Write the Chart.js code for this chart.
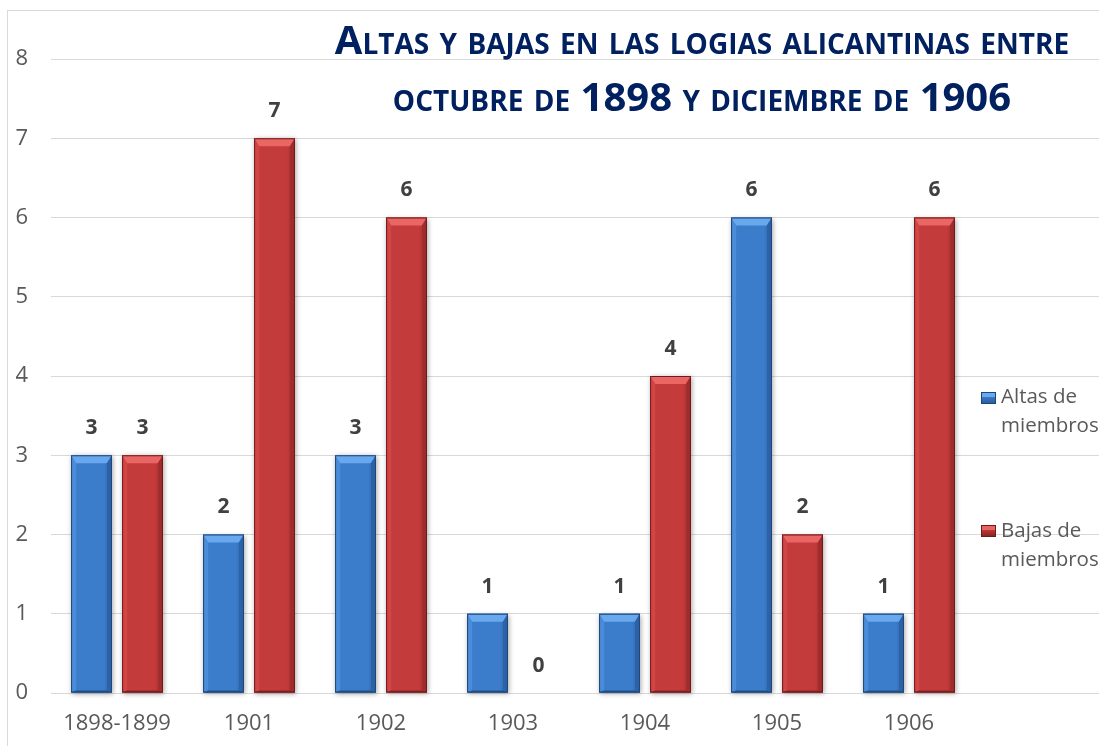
<!DOCTYPE html>
<html>
<head>
<meta charset="utf-8">
<script src="https://cdn.jsdelivr.net/npm/chart.js@4.4.1/dist/chart.umd.min.js"></script>
<style>
  html, body { margin: 0; padding: 0; background: #fff; overflow: hidden; }
  #wrap { position: relative; width: 1099px; height: 746px; overflow: hidden; }
  #frame { position: absolute; left: 7px; top: 10px; width: 1200px; height: 800px; border: 1px solid #d9d9d9; box-sizing: border-box; }
  #box { position: absolute; left: 0; top: 0; width: 1107px; height: 746px; }
  .tline { position: absolute; left: 302px; width: 800px; text-align: center; color: #002060;
           font-family: 'Open Sans', sans-serif; font-weight: bold; font-variant: small-caps; white-space: nowrap;
           font-size: 40px; line-height: 40px; }
  #t1 { top: 19px; }
  #t2 { top: 76px; }
  .leg { position: absolute; left: 1001px; font-family: 'Open Sans', sans-serif; font-size: 20.5px; line-height: 29px; color: #595959; white-space: nowrap; }
  .mark { position: absolute; left: 981px; width: 15px; height: 12px; box-sizing: border-box; }
</style>
</head>
<body>
<div id="wrap">
  <div id="frame"></div>
  <div id="box"><canvas id="chart"></canvas></div>
  <div id="t1" class="tline">Altas y bajas en las logias alicantinas entre</div>
  <div id="t2" class="tline">octubre de 1898 y diciembre de 1906</div>
  <div class="mark" style="top:392px;background:linear-gradient(180deg,#6aa9ee 0,#6aa9ee 35%,#3b7bc8 36%,#2a5f9f 100%);border:1px solid #1d4677;"></div>
  <div class="leg" style="top:381px;">Altas de<br>miembros</div>
  <div class="mark" style="top:525px;background:linear-gradient(180deg,#e86562 0,#e86562 35%,#c23a3a 36%,#8a2424 100%);border:1px solid #6e1b1b;"></div>
  <div class="leg" style="top:515px;">Bajas de<br>miembros</div>
</div>
<script>
// datos
const years = ['1898-1899', '1901', '1902', '1903', '1904', '1905', '1906', ''];
const altas = [3, 2, 3, 1, 1, 6, 1, null];
const bajas = [3, 7, 6, 0, 4, 2, 6, null];
const yTicks = [0, 1, 2, 3, 4, 5, 6, 7, 8];

const palettes = [
  { mid: '#3c7dcb', light: '#4b8cda', top: '#68a8ee', dark: '#2c62a6', bottom: '#24528a', line: '#1d4677' },
  { mid: '#c43b3b', light: '#d24545', top: '#ea6664', dark: '#a02c2c', bottom: '#8a2424', line: '#6e1b1b' }
];

// sombra suave detrás de las barras
const shadowPlugin = {
  id: 'shadowPlugin',
  beforeDatasetsDraw(chart) {
    const ctx = chart.ctx;
    ctx.save();
    ctx.shadowColor = 'rgba(0,0,0,0.35)';
    ctx.shadowBlur = 5;
    ctx.shadowOffsetX = 1;
    ctx.shadowOffsetY = 1;
    ctx.fillStyle = '#888';
    chart.data.datasets.forEach((ds, i) => {
      chart.getDatasetMeta(i).data.forEach((bar, j) => {
        if (ds.data[j] == null || ds.data[j] === 0) return;
        const p = bar.getProps(['x', 'y', 'base', 'width'], true);
        ctx.fillRect(p.x - p.width / 2, p.y, p.width, p.base - p.y);
      });
    });
    ctx.restore();
  }
};

// biselado tipo Excel + etiquetas
const bevelPlugin = {
  id: 'bevelPlugin',
  afterDatasetsDraw(chart) {
    const ctx = chart.ctx;
    chart.data.datasets.forEach((ds, i) => {
      const pal = palettes[i];
      chart.getDatasetMeta(i).data.forEach((bar, j) => {
        const v = ds.data[j];
        if (v == null) return;
        const p = bar.getProps(['x', 'y', 'base', 'width'], true);
        const l = p.x - p.width / 2, r = p.x + p.width / 2, t = p.y, b = p.base;
        if (b - t > 1) {
          ctx.save();
          const g = ctx.createLinearGradient(l, 0, r, 0);
          g.addColorStop(0, pal.light);
          g.addColorStop(0.15, pal.mid);
          g.addColorStop(0.8, pal.mid);
          g.addColorStop(1, pal.dark);
          ctx.fillStyle = g;
          ctx.fillRect(l, t, r - l, b - t);
          const bv = 5, bt = 8;
          // arriba
          ctx.fillStyle = pal.top;
          ctx.beginPath();
          ctx.moveTo(l, t); ctx.lineTo(r, t); ctx.lineTo(r - bv, t + bt); ctx.lineTo(l + bv, t + bt); ctx.closePath();
          ctx.fill();
          // izquierda
          ctx.fillStyle = pal.light;
          ctx.beginPath();
          ctx.moveTo(l, t); ctx.lineTo(l + bv, t + bt); ctx.lineTo(l + bv, b - 2); ctx.lineTo(l, b); ctx.closePath();
          ctx.fill();
          // derecha
          ctx.fillStyle = pal.dark;
          ctx.beginPath();
          ctx.moveTo(r, t); ctx.lineTo(r - bv, t + bt); ctx.lineTo(r - bv, b - 2); ctx.lineTo(r, b); ctx.closePath();
          ctx.fill();
          // abajo
          ctx.fillStyle = pal.bottom;
          ctx.beginPath();
          ctx.moveTo(l, b); ctx.lineTo(l + bv, b - 2); ctx.lineTo(r - bv, b - 2); ctx.lineTo(r, b); ctx.closePath();
          ctx.fill();
          ctx.strokeStyle = pal.line;
          ctx.lineWidth = 1;
          ctx.strokeRect(l + 0.5, t + 0.5, r - l - 1, b - t - 1);
          ctx.restore();
        }
        ctx.save();
        ctx.font = 'bold 21px "Open Sans"';
        ctx.fillStyle = '#404040';
        ctx.textAlign = 'center';
        ctx.textBaseline = 'middle';
        ctx.fillText(String(v), p.x, t - 27);
        ctx.restore();
      });
    });
  }
};

new Chart(document.getElementById('chart'), {
  type: 'bar',
  data: {
    labels: years,
    datasets: [
      { label: 'Altas de miembros', data: altas, backgroundColor: palettes[0].mid, borderWidth: 0 },
      { label: 'Bajas de miembros', data: bajas, backgroundColor: palettes[1].mid, borderWidth: 0 }
    ]
  },
  options: {
    responsive: true,
    maintainAspectRatio: false,
    animation: false,
    devicePixelRatio: 1,
    categoryPercentage: 0.773,
    barPercentage: 0.8,
    layout: { padding: { top: 59, left: 0, right: 0, bottom: 0 } },
    plugins: { legend: { display: false }, tooltip: { enabled: false }, title: { display: false } },
    scales: {
      x: {
        grid: { display: false, drawTicks: false },
        border: { display: false },
        ticks: { color: '#595959', font: { family: 'Open Sans', size: 22 }, padding: 18, maxRotation: 0, autoSkip: false },
        afterFit: s => { s.height = 53; }
      },
      y: {
        min: 0, max: 8,
        afterBuildTicks: s => { s.ticks = yTicks.map(v => ({ value: v })); },
        grid: { color: '#d9d9d9', lineWidth: 1, drawTicks: false },
        border: { display: false },
        ticks: { color: '#595959', font: { family: 'Open Sans', size: 22 }, padding: 23 },
        afterFit: s => { s.width = 51; }
      }
    }
  },
  plugins: [shadowPlugin, bevelPlugin]
});
</script>
</body>
</html>
